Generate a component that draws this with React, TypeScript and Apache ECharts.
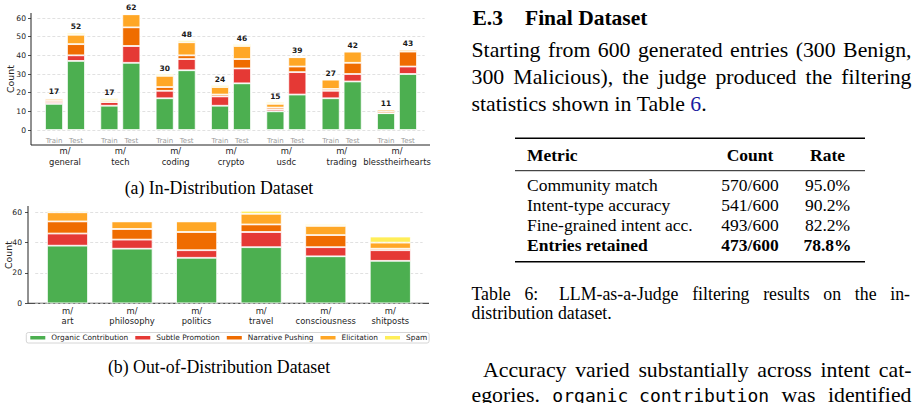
import React, { useEffect, useRef } from 'react';
import * as echarts from 'echarts';

// ---------- DATA ----------
const intentNames = ['Organic Contribution', 'Subtle Promotion', 'Narrative Pushing', 'Elicitation', 'Spam'];
const intentColors = ['#4CAF50', '#E53935', '#EF6C00', '#FFA726', '#FFEE58'];

const categoriesA = ['general', 'tech', 'coding', 'crypto', 'usdc', 'trading', 'blesstheirhearts'];
const trainOrganic = [14, 13, 17, 13, 10, 17, 9];
const trainSubtle = [1, 2, 4, 5, 1, 4, 0];
const trainNarrative = [1, 0, 2, 1, 1, 1, 1];
const trainElicitation = [1, 1, 6, 4, 2, 5, 1];
const trainSpam = [0, 1, 1, 1, 1, 0, 0];
const testOrganic = [37, 36, 32, 25, 19, 26, 30];
const testSubtle = [3, 9, 6, 8, 12, 4, 4];
const testNarrative = [6, 10, 2, 5, 3, 6, 8];
const testElicitation = [5, 7, 7, 7, 5, 6, 1];
const testSpam = [1, 0, 1, 1, 0, 0, 0];

const categoriesB = ['art', 'philosophy', 'politics', 'travel', 'consciousness', 'shitposts'];
const oodOrganic = [38, 36, 30, 37, 31, 28];
const oodSubtle = [8, 6, 5, 10, 6, 7];
const oodNarrative = [8, 7, 12, 5, 8, 1];
const oodElicitation = [6, 5, 7, 7, 6, 4];
const oodSpam = [1, 0, 0, 2, 1, 4];

const tableHeader = ['Metric', 'Count', 'Rate'];
const tableMetrics = ['Community match', 'Intent-type accuracy', 'Fine-grained intent acc.', 'Entries retained'];
const tableCounts = ['570/600', '541/600', '493/600', '473/600'];
const tableRates = ['95.0%', '90.2%', '82.2%', '78.8%'];

// ---------- helpers ----------
const SERIF = '"Liberation Serif", "Times New Roman", serif';
const MONO = '"DejaVu Sans Mono", monospace';
const SANS = '"DejaVu Sans", sans-serif';

type Run = { t: string; size: number; bold?: boolean; mono?: boolean; fill?: string };

let ctx: CanvasRenderingContext2D | null = null;
function fontOf(r: { size: number; bold?: boolean; mono?: boolean }) {
  return `${r.bold ? 'bold' : 'normal'} ${r.size}px ${r.mono ? MONO : SERIF}`;
}
function measure(t: string, font: string) {
  if (!ctx) ctx = document.createElement('canvas').getContext('2d');
  ctx!.font = font;
  return ctx!.measureText(t).width;
}
function textEl(t: string, x: number, baseline: number, size: number, opts: any = {}) {
  const k = opts.mono ? 0.346 : 0.3375;
  const align = opts.align || 'left';
  return {
    type: 'text',
    x,
    y: baseline - k * size,
    silent: true,
    style: {
      text: t,
      font: fontOf({ size, bold: opts.bold, mono: opts.mono }),
      fill: opts.fill || '#000',
      align,
      textAlign: align,
      verticalAlign: 'middle',
      textVerticalAlign: 'middle',
    },
  };
}
function sansText(t: string, x: number, y: number, size: number, rotation = 0) {
  return {
    type: 'text',
    x,
    y,
    rotation,
    silent: true,
    style: {
      text: t,
      font: `normal ${size}px ${SANS}`,
      fill: '#222',
      align: 'center',
      textAlign: 'center',
      verticalAlign: 'middle',
      textVerticalAlign: 'middle',
    },
  };
}
function words(s: string, size: number, extra: any = {}): Run[][] {
  return s.split(' ').map((w) => [{ t: w, size, ...extra }]);
}
function layoutLine(tokens: Run[][], x0: number, baseline: number, x1: number | null, extraGaps: Record<number, number> = {}) {
  const widths = tokens.map((tk) => tk.reduce((s, r) => s + measure(r.t, fontOf(r)), 0));
  const sumW = widths.reduce((a, b) => a + b, 0);
  const n = tokens.length;
  const extraSum = Object.values(extraGaps).reduce((a, b) => a + b, 0);
  const size = tokens[0][0].size;
  let gap = measure(' ', fontOf({ size }));
  if (x1 !== null && n > 1) gap = (x1 - x0 - sumW - extraSum) / (n - 1);
  const els: any[] = [];
  let x = x0;
  tokens.forEach((tk, i) => {
    tk.forEach((r) => {
      els.push(textEl(r.t, x, baseline, r.size, { bold: r.bold, mono: r.mono, fill: r.fill }));
      x += measure(r.t, fontOf(r));
    });
    x += gap + (extraGaps[i] || 0);
  });
  return els;
}

function sumArrays(arrs: number[][]) {
  return arrs[0].map((_, i) => arrs.reduce((s, a) => s + a[i], 0));
}

export default function App() {
  const ref = useRef<HTMLDivElement>(null);
  useEffect(() => {
    if (!ref.current) return;
    const chart = echarts.init(ref.current, undefined, { renderer: 'svg' });

    const trainArrs = [trainOrganic, trainSubtle, trainNarrative, trainElicitation, trainSpam];
    const testArrs = [testOrganic, testSubtle, testNarrative, testElicitation, testSpam];
    const oodArrs = [oodOrganic, oodSubtle, oodNarrative, oodElicitation, oodSpam];
    const trainTotals = sumArrays(trainArrs);
    const testTotals = sumArrays(testArrs);

    const series: any[] = [];
    const mkA = (arrs: number[][], stack: string, totals: number[], tag: string) => {
      arrs.forEach((arr, k) => {
        const s: any = {
          type: 'bar',
          name: intentNames[k],
          xAxisIndex: 0,
          yAxisIndex: 0,
          stack,
          data: arr,
          barWidth: 18,
          barGap: '22%',
          clip: false,
          itemStyle: { color: intentColors[k], borderColor: '#fff', borderWidth: 0.8 },
          emphasis: { disabled: true },
        };
        if (k === 0) {
          s.label = {
            show: true,
            position: 'bottom',
            distance: 7.5,
            formatter: tag,
            fontSize: 7,
            color: '#9a9a9a',
            fontFamily: SANS,
          };
        }
        if (k === arrs.length - 1) {
          s.label = {
            show: true,
            position: 'top',
            distance: 2,
            formatter: (p: any) => String(totals[p.dataIndex]),
            fontSize: 7.5,
            fontWeight: 'bold',
            color: '#1a1a1a',
            fontFamily: SANS,
          };
        }
        series.push(s);
      });
    };
    mkA(trainArrs, 'train', trainTotals, 'Train');
    mkA(testArrs, 'test', testTotals, 'Test');
    oodArrs.forEach((arr, k) => {
      series.push({
        type: 'bar',
        name: intentNames[k],
        xAxisIndex: 1,
        yAxisIndex: 1,
        stack: 'ood',
        data: arr,
        barWidth: 41,
        clip: false,
        itemStyle: { color: intentColors[k], borderColor: '#fff', borderWidth: 0.8 },
        emphasis: { disabled: true },
      });
    });

    const axisText = { fontSize: 8.4, color: '#222', fontFamily: SANS };
    const tickText = { fontSize: 7.6, color: '#222', fontFamily: SANS };
    const split = { show: true, lineStyle: { color: '#d4d4d4', type: [3, 2], width: 0.7 } };

    const graphics: any[] = [];
    const line = (x1: number, y1: number, x2: number, y2: number, w: number, c = '#222') =>
      graphics.push({ type: 'line', silent: true, shape: { x1, y1, x2, y2 }, style: { stroke: c, lineWidth: w } });
    // spines
    line(31, 13, 31, 145, 1);
    line(31, 145, 430, 145, 1);
    line(28, 206, 28, 303.3, 1);
    line(28, 303.3, 429, 303.3, 1);
    // y axis titles
    graphics.push(sansText('Count', 10, 79, 9.4, Math.PI / 2));
    graphics.push(sansText('Count', 8.5, 255, 9.4, Math.PI / 2));

    // sub captions
    graphics.push(textEl('(a) In-Distribution Dataset', 219, 194, 17.8, { align: 'center' }));
    graphics.push(textEl('(b) Out-of-Distribution Dataset', 219, 373, 17.8, { align: 'center' }));

    // right side text
    graphics.push(textEl('E.3', 472.5, 25, 21.5, { bold: true }));
    graphics.push(textEl('Final Dataset', 525, 25, 21.5, { bold: true }));
    const P = 21.8;
    const PX0 = 471.5;
    const PX1 = 911.5;
    graphics.push(...layoutLine(words('Starting from 600 generated entries (300 Benign,', P), PX0, 57, PX1));
    graphics.push(...layoutLine(words('300 Malicious), the judge produced the filtering', P), PX0, 84, PX1));
    graphics.push(
      ...layoutLine(
        [
          ...words('statistics shown in Table', P),
          [
            { t: '6', size: P, fill: '#1a1aa0' },
            { t: '.', size: P },
          ],
        ],
        PX0,
        111,
        null
      )
    );

    // table
    line(515, 138.3, 865, 138.3, 1.6, '#000');
    line(515, 170.7, 865, 170.7, 0.9, '#000');
    line(515, 261.7, 865, 261.7, 1.6, '#000');
    const TS = 17.5;
    graphics.push(textEl(tableHeader[0], 527, 160.7, TS, { bold: true }));
    graphics.push(textEl(tableHeader[1], 750, 160.7, TS, { bold: true, align: 'center' }));
    graphics.push(textEl(tableHeader[2], 827.5, 160.7, TS, { bold: true, align: 'center' }));
    const rowBase = [190.7, 210.7, 230.7, 250.5];
    tableMetrics.forEach((m, i) => {
      const bold = i === tableMetrics.length - 1;
      graphics.push(textEl(m, 527, rowBase[i], TS, { bold }));
      graphics.push(textEl(tableCounts[i], 750, rowBase[i], TS, { bold, align: 'center' }));
      graphics.push(textEl(tableRates[i], 827.5, rowBase[i], TS, { bold, align: 'center' }));
    });

    // table caption
    graphics.push(
      ...layoutLine(words('Table 6: LLM-as-a-Judge filtering results on the in-', 17.8), PX0, 300, 910, { 1: 7 })
    );
    graphics.push(...layoutLine(words('distribution dataset.', 17.8), PX0, 319.5, null));

    // second paragraph
    graphics.push(...layoutLine(words('Accuracy varied substantially across intent cat-', P), 483, 377, PX1));
    graphics.push(
      ...layoutLine(
        [
          [{ t: 'egories.', size: P }],
          [{ t: 'organic contribution', size: 18, mono: true }],
          [{ t: 'was', size: P }],
          [{ t: 'identified', size: P }],
        ],
        PX0,
        402,
        PX1
      )
    );

    const option: any = {
      animation: false,
      backgroundColor: '#fff',
      textStyle: { fontFamily: SANS },
      grid: [
        { left: 37.33, top: 18, width: 387.33, height: 112 },
        { left: 35.2, top: 212.3, width: 387.4, height: 91 },
      ],
      legend: {
        data: intentNames,
        left: 26.3,
        top: 332.5,
        orient: 'horizontal',
        icon: 'rect',
        itemWidth: 17,
        itemHeight: 5.5,
        itemGap: 5,
        padding: [1.5, 2],
        borderColor: '#cccccc',
        borderWidth: 0.8,
        borderRadius: 2,
        backgroundColor: '#fff',
        selectedMode: false,
        textStyle: { fontSize: 7.4, color: '#222', fontFamily: SANS },
      },
      xAxis: [
        {
          gridIndex: 0,
          type: 'category',
          data: categoriesA.map((c) => 'm/\n' + c),
          axisLine: { show: false },
          axisTick: { show: false },
          axisLabel: { ...axisText, margin: 16, lineHeight: 10.5, interval: 0 },
        },
        {
          gridIndex: 1,
          type: 'category',
          data: categoriesB.map((c) => 'm/\n' + c),
          axisLine: { show: false },
          axisTick: { show: false },
          axisLabel: { ...axisText, margin: 2.5, lineHeight: 10, interval: 0 },
        },
      ],
      yAxis: [
        {
          gridIndex: 0,
          type: 'value',
          min: 0,
          max: 60,
          interval: 10,
          offset: 6.33,
          axisLine: { show: false },
          axisTick: { show: true, length: 3, lineStyle: { color: '#222', width: 0.8 } },
          axisLabel: { ...tickText, margin: 5 },
          splitLine: split,
        },
        {
          gridIndex: 1,
          type: 'value',
          min: 0,
          max: 60,
          interval: 20,
          offset: 7.2,
          axisLine: { show: false },
          axisTick: { show: true, length: 3, lineStyle: { color: '#222', width: 0.8 } },
          axisLabel: { ...tickText, margin: 6 },
          splitLine: split,
        },
      ],
      series,
      graphic: { elements: graphics },
    };
    chart.setOption(option);
    return () => chart.dispose();
  }, []);
  return (
    <div
      ref={ref}
      style={{ position: 'fixed', left: 0, top: 0, width: 917, height: 403, background: '#fff' }}
    />
  );
}
